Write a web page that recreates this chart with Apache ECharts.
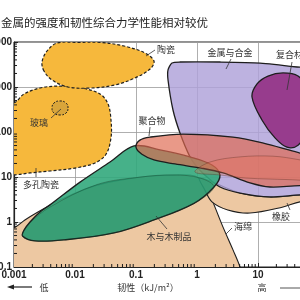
<!DOCTYPE html>
<html><head><meta charset="utf-8">
<script src="https://cdn.jsdelivr.net/npm/echarts@6/dist/echarts.min.js"></script>
<style>html,body{margin:0;padding:0;background:#fff}#c{width:300px;height:300px}</style>
</head><body><div id="c"></div>
<script>
// ---- tick labels ----
const xTickLabels = ['0.001', '0.01', '0.1', '1', '10', '100'];
const yTickLabels = ['0.1', '1', '10', '100', '1000', '10000'];
const minorMultipliers = [2, 3, 4, 5, 6, 7, 8, 9];

// ---- material envelopes: [toughness kJ/m2, strength] ----
const foam = [[0.0007,0.66],[0.001,0.74],[0.00151,1.11],[0.00247,1.67],[0.00568,3.1],[0.023,6.6],[0.121,10],[0.42,11.1],[0.927,10.5],[1.35,6.6],[1.76,3.1],[2.67,0.77],[3.89,0.24],[5.07,0.1],[5.7,0.05],[0.0007,0.05]];
const rubber = [[1.12,9.5],[5.07,4.4],[15.7,3.6],[48.9,4.0],[151,4.6],[151,3.1],[48.9,2.8],[25.7,2.15],[7.4,1.58],[3.2,1.85],[1.76,2.8],[1.35,5.1]];
const metals = [[0.335,2390],[0.389,3410],[0.526,3590],[2.38,3590],[10.8,3410],[43.6,2780],[125,2270],[151,4.0],[48.9,4.0],[15.7,3.6],[5.07,4.4],[2.38,6.0],[1.46,10],[1.0,16.7],[0.767,28],[0.526,95],[0.404,308],[0.335,1430]];
const composites = [[7.98,600],[9.64,1170],[14.6,1750],[25.7,2050],[45.3,1750],[61.2,950],[68.5,308],[61.2,100],[45.3,51],[29.9,46],[19,74],[11.6,185]];
const wood = [[0.00138,0.49],[0.00146,0.66],[0.00183,1.0],[0.00267,1.67],[0.00389,2.4],[0.0121,7.7],[0.0375,21.5],[0.0927,49],[0.247,40],[0.767,28],[1.76,18.5],[2.38,11.1],[1.9,6.0],[0.893,2.6],[0.197,1.11],[0.0436,0.57],[0.0066,0.4],[0.00221,0.38]];
const woodInner = [[0.00183,0.95],[0.00389,2.15],[0.023,6.8],[0.121,10],[0.42,11.1],[1.12,9.5],[1.9,6.0],[0.893,2.6],[0.197,1.11],[0.0436,0.57],[0.0066,0.4],[0.00221,0.38],[0.00138,0.49]];
const polymers = [[0.1,46],[0.116,66],[0.17,77],[0.589,90],[3.89,77],[14.1,54],[48.9,34],[125,24],[125,6.0],[48.9,6.4],[15.7,6.0],[7.4,7.4],[2.67,12.3],[1.16,15.8],[0.436,19.5],[0.197,24],[0.125,32]];
const polymers2 = [[0.927,12.9],[1.63,21.5],[5.07,28],[17.6,29],[48.9,24],[125,18.5],[125,7.4],[48.9,8.5],[15.7,9.0],[6.12,9.5],[2.38,11.1]];
const ceramicsUpper = [[0.0031,2270],[0.00288,3590],[0.00348,6310],[0.00507,9500],[0.0112,9800],[0.0257,9800],[0.0636,8150],[0.14,5700],[0.197,3780],[0.17,2510],[0.096,1585],[0.0453,1110],[0.0183,950],[0.00768,1000],[0.0042,1430]];
const ceramicsLower = [[0.001,441],[0.00146,700],[0.00267,950],[0.00568,1050],[0.013,950],[0.0257,700],[0.0348,419],[0.0389,185],[0.0389,74],[0.0322,32],[0.0213,20.5],[0.01,15.8],[0.00389,13.6],[0.00183,12.3],[0.001,11.1],[0.0006,11.1],[0.0006,441]];
const glass = [[0.00768,341],[0.00712,441],[0.00568,489],[0.00453,441],[0.0042,341],[0.00453,264],[0.00568,239],[0.00712,264]];

const titleText = '金属的强度和韧性综合力学性能相对较优';
const notes = [
  ['陶瓷', 166, 50, 'center'], ['金属与合金', 230, 53, 'center'], ['复合材料', 276, 55, 'left'],
  ['聚合物', 152, 121, 'center'], ['玻璃', 39, 123, 'center'], ['多孔陶瓷', 41, 185, 'center'],
  ['木与木制品', 169, 237, 'center'], ['海绵', 243, 227, 'center'], ['橡胶', 272, 217, 'left']
];
const leaders = [
  [146,56,155,50],[231,59,226,69],[292,62,287,90],[51,118,61,109],[36,168,36,177],
  [150,127,149,136],[167,229,156,216],[232,228,226,234],[287,203,290,210]
];

const chart = echarts.init(document.getElementById('c'), null, {renderer: 'canvas'});
const ink = '#1e1e1e';
function blob(name, pts, fill, stroke, lw, dash, smooth) {
  return {
    type: 'custom', name, coordinateSystem: 'cartesian2d', clip: true, silent: true, animation: false,
    data: pts,
    renderItem: (params, api) => {
      if (params.dataIndex !== 0) return null;
      return {
        type: 'polygon',
        shape: {points: pts.map(p => api.coord(p)), smooth: smooth == null ? 0.35 : smooth},
        style: {fill, stroke, lineWidth: lw, lineDash: dash || null}
      };
    }
  };
}
// minor log ticks (axis decoration), placed through the axes' own scales
const xMinor = [], yMinor = [];
for (let e = -3; e <= 1; e++) minorMultipliers.forEach(m => xMinor.push(m * Math.pow(10, e)));
for (let e = -1; e <= 3; e++) minorMultipliers.forEach(m => yMinor.push(m * Math.pow(10, e)));
function tickSeries(vals, isX) {
  return {
    type: 'custom', coordinateSystem: 'cartesian2d', silent: true, animation: false, z: 20,
    data: vals.map(v => isX ? [v, 0.1] : [0.001, v]),
    renderItem: (params, api) => {
      const p = api.coord([api.value(0), api.value(1)]);
      return {
        type: 'line', z2: 50,
        shape: isX ? {x1: p[0], y1: p[1], x2: p[0], y2: p[1] - 3} : {x1: p[0], y1: p[1], x2: p[0] + 3, y2: p[1]},
        style: {stroke: '#1a1a1a', lineWidth: 1}
      };
    }
  };
}
const axisFont = {fontFamily: 'Liberation Sans', fontWeight: 'bold', fontSize: 10, color: '#222'};
const graphic = [];
graphic.push({type: 'text', x: 1, y: 23, style: {text: titleText, font: '11.5px "Noto Sans CJK SC"', fill: '#222', align: 'left', verticalAlign: 'middle'}});
notes.forEach(n => graphic.push({type: 'text', x: n[1], y: n[2], z: 100, style: {text: n[0], font: '9px "Noto Sans CJK SC"', fill: '#333', align: n[3], verticalAlign: 'middle'}}));
leaders.forEach(l => graphic.push({type: 'line', z: 100, shape: {x1: l[0], y1: l[1], x2: l[2], y2: l[3]}, style: {stroke: '#333', lineWidth: 0.8}}));
graphic.push({type: 'line', shape: {x1: 12, y1: 287, x2: 32, y2: 287}, style: {stroke: '#222', lineWidth: 1.2}});
graphic.push({type: 'polygon', shape: {points: [[7,287],[14,284.5],[14,289.5]]}, style: {fill: '#222'}});
graphic.push({type: 'text', x: 44, y: 288, style: {text: '低', font: '9px "Noto Sans CJK SC"', fill: '#333', align: 'center', verticalAlign: 'middle'}});
graphic.push({type: 'text', x: 148, y: 288, style: {text: '韧性（kJ/m²）', font: '9px "Noto Sans CJK SC"', fill: '#333', align: 'center', verticalAlign: 'middle'}});
graphic.push({type: 'text', x: 262, y: 288, style: {text: '高', font: '9px "Noto Sans CJK SC"', fill: '#333', align: 'center', verticalAlign: 'middle'}});
graphic.push({type: 'line', shape: {x1: 280, y1: 288, x2: 300, y2: 288}, style: {stroke: '#555', lineWidth: 1}});

chart.setOption({
  animation: false,
  backgroundColor: '#fff',
  grid: {left: 14, top: 42, width: 305, height: 225, containLabel: false, outerBoundsMode: 'none', show: true, borderColor: '#222', borderWidth: 1, backgroundColor: 'transparent'},
  xAxis: {
    type: 'log', logBase: 10, min: 0.001, max: 100,
    axisLine: {lineStyle: {color: '#222', width: 1.2}},
    axisTick: {show: true, inside: true, length: 4, lineStyle: {color: '#222'}},
    minorTick: {show: false},
    splitLine: {show: true, lineStyle: {color: '#9a9a9a', width: 0.8}},
    axisLabel: Object.assign({margin: 3, hideOverlap: false, formatter: v => xTickLabels[Math.round(Math.log10(v)) + 3]}, axisFont)
  },
  yAxis: {
    type: 'log', logBase: 10, min: 0.1, max: 10000,
    axisLine: {lineStyle: {color: '#222', width: 1.2}},
    axisTick: {show: true, inside: true, length: 4, lineStyle: {color: '#222'}},
    minorTick: {show: false},
    splitLine: {show: true, lineStyle: {color: '#9a9a9a', width: 0.8}},
    axisLabel: Object.assign({margin: 2, hideOverlap: false, formatter: v => yTickLabels[Math.round(Math.log10(v)) + 1]}, axisFont)
  },
  graphic,
  series: [
    blob('海绵', foam, '#EDC8A2', ink, 1.1),
    blob('橡胶', rubber, '#EDC8A2', ink, 1.1),
    blob('金属与合金', metals, 'rgba(174,161,217,0.82)', ink, 1.3, null, 0.25),
    blob('复合材料', composites, '#973C8D', ink, 1.3),
    blob('木与木制品', wood, 'rgba(50,168,124,0.9)', ink, 1.3),
    blob('木内', woodInner, 'rgba(0,90,60,0.16)', 'rgba(20,60,40,0.55)', 0.7),
    blob('聚合物', polymers, 'rgba(222,104,80,0.68)', ink, 1.3),
    blob('聚合物2', polymers2, 'rgba(235,110,80,0.3)', 'rgba(90,40,30,0.5)', 0.7),
    blob('多孔陶瓷', ceramicsLower, '#F6B83C', ink, 1.2, [3, 2]),
    blob('陶瓷', ceramicsUpper, '#F6B83C', ink, 1.2, [3, 2]),
    blob('玻璃', glass, '#D9A53A', ink, 1, [2, 1.5], 0.5),
    tickSeries(xMinor, true),
    tickSeries(yMinor, false)
  ]
});
</script></body></html>
